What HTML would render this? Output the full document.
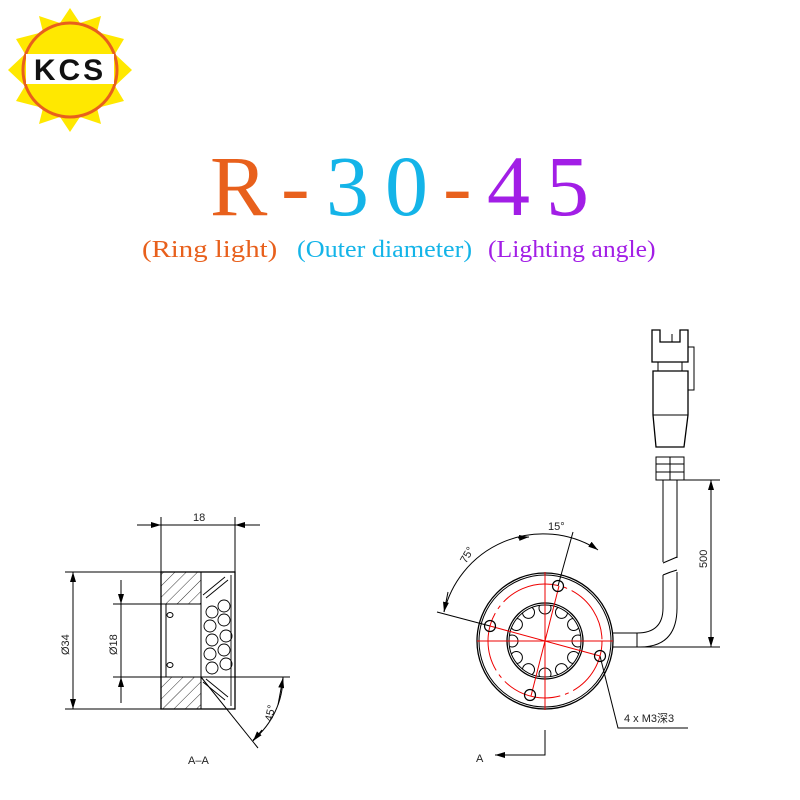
<!DOCTYPE html>
<html><head><meta charset="utf-8"><style>
body{margin:0;background:#fff;}
.w{position:relative;width:800px;height:800px;overflow:hidden;background:#fff;}
.t{position:absolute;font-family:"Liberation Serif",serif;font-size:86px;line-height:1;}
.s{position:absolute;font-family:"Liberation Serif",serif;font-size:24px;top:237px;white-space:nowrap;transform-origin:0 0;}
</style></head><body><div class="w">
<svg width="800" height="800" style="position:absolute;left:0;top:0" xmlns="http://www.w3.org/2000/svg">
<defs>
<marker id="a" markerWidth="10" markerHeight="6" refX="10" refY="3" orient="auto" markerUnits="userSpaceOnUse"><path d="M0,0 L10,3 L0,6z" fill="#000"/></marker>
<pattern id="h" width="8" height="8" patternUnits="userSpaceOnUse" patternTransform="rotate(45)"><line x1="0" y1="0" x2="0" y2="8" stroke="#000" stroke-width="0.8"/></pattern>
<clipPath id="ic"><circle cx="545" cy="641" r="36"/></clipPath>
</defs>
<!-- logo -->
<g transform="translate(70,70)">
<polygon fill="#ffe800" points="0,-62 10,-47 31,-54 27,-38 54,-31 45,-16 62,0 45,16 54,31 27,38 31,54 10,47 0,62 -10,47 -31,54 -27,38 -54,31 -45,16 -62,0 -45,-16 -54,-31 -27,-38 -31,-54 -10,-47"/>
<circle r="47" fill="#ffe800" stroke="#e8601c" stroke-width="3"/>
<rect x="-44" y="-16" width="88" height="30" fill="#fff"/>
<text x="0" y="10" text-anchor="middle" font-family="Liberation Sans,sans-serif" font-size="30" font-weight="bold" fill="#111" letter-spacing="3">KCS</text>
</g>
<g fill="none" stroke="#000" stroke-width="1">
<rect x="161" y="572" width="74" height="137" stroke-width="1.3"/>
<rect x="161" y="572" width="40" height="32" fill="url(#h)"/>
<rect x="161" y="677" width="40" height="32" fill="url(#h)"/>
<line x1="201" y1="604" x2="201" y2="677"/>
<line x1="166" y1="604" x2="166" y2="677"/>
<ellipse cx="170" cy="615" rx="3" ry="2.5"/><ellipse cx="170" cy="665" rx="3" ry="2.5"/>
<g stroke-width="0.9">
<circle cx="212" cy="612" r="6"/><circle cx="224" cy="606" r="6"/><circle cx="210" cy="626" r="6"/><circle cx="224" cy="620" r="6"/>
<circle cx="212" cy="640" r="6"/><circle cx="226" cy="636" r="6"/><circle cx="210" cy="654" r="6"/><circle cx="224" cy="650" r="6"/>
<circle cx="212" cy="668" r="6"/><circle cx="226" cy="664" r="6"/>
<line x1="203" y1="595" x2="225" y2="577"/><line x1="206" y1="598" x2="228" y2="580"/>
<line x1="203" y1="682" x2="225" y2="700"/><line x1="206" y1="679" x2="228" y2="697"/>
<line x1="231" y1="575" x2="231" y2="706"/>
</g>
<line x1="113" y1="604" x2="161" y2="604"/><line x1="113" y1="677" x2="161" y2="677"/>
<line x1="65" y1="572" x2="161" y2="572"/><line x1="65" y1="709" x2="161" y2="709"/>
<line x1="161" y1="517" x2="161" y2="572"/><line x1="235" y1="517" x2="235" y2="572"/>
<line x1="137" y1="525" x2="161" y2="525" marker-end="url(#a)"/><line x1="260" y1="525" x2="235" y2="525" marker-end="url(#a)"/>
<line x1="161" y1="525" x2="235" y2="525"/>
<line x1="73" y1="640" x2="73" y2="572" marker-end="url(#a)"/><line x1="73" y1="640" x2="73" y2="709" marker-end="url(#a)"/>
<line x1="121" y1="580" x2="121" y2="604" marker-end="url(#a)"/><line x1="121" y1="703" x2="121" y2="677" marker-end="url(#a)"/>
<line x1="121" y1="604" x2="121" y2="677"/>
<line x1="201" y1="677" x2="290" y2="677"/>
<line x1="201" y1="677" x2="258" y2="748"/>
<path d="M283,677 A82,82 0 0 1 253,740" />
<line x1="278" y1="705" x2="283" y2="678" marker-end="url(#a)"/>
<line x1="262" y1="730" x2="253" y2="741" marker-end="url(#a)"/>
<circle cx="545" cy="641" r="68" stroke-width="1.3"/><circle cx="545" cy="641" r="66"/>
<circle cx="545" cy="641" r="38" stroke-width="1.3"/><circle cx="545" cy="641" r="36"/>
</g>
<g fill="none" stroke="#000" stroke-width="1" clip-path="url(#ic)">
<circle cx="578" cy="641" r="6"/><circle cx="573.6" cy="657.5" r="6"/><circle cx="561.5" cy="669.6" r="6"/><circle cx="545" cy="674" r="6"/><circle cx="528.5" cy="669.6" r="6"/><circle cx="516.4" cy="657.5" r="6"/><circle cx="512" cy="641" r="6"/><circle cx="516.4" cy="624.5" r="6"/><circle cx="528.5" cy="612.4" r="6"/><circle cx="545" cy="608" r="6"/><circle cx="561.5" cy="612.4" r="6"/><circle cx="573.6" cy="624.5" r="6"/>
</g>
<g fill="none" stroke="#e00" stroke-width="1">
<circle cx="545" cy="641" r="57" stroke-dasharray="60,5,4,5"/>
<line x1="477" y1="641" x2="613" y2="641"/><line x1="545" y1="572" x2="545" y2="710"/>
<line x1="490" y1="626" x2="600" y2="656"/><line x1="559" y1="586" x2="531" y2="696"/>
</g>
<g fill="none" stroke="#000" stroke-width="1.2">
<circle cx="558" cy="586" r="5.5"/><circle cx="490" cy="626" r="5.5"/><circle cx="600" cy="656" r="5.5"/><circle cx="530" cy="695" r="5.5"/>
</g>
<g fill="none" stroke="#000" stroke-width="1">
<line x1="490" y1="626" x2="437" y2="612"/><line x1="558" y1="586" x2="573" y2="532"/>
<path d="M444,612 A102,102 0 0 1 595,548"/>
<line x1="448" y1="592" x2="444" y2="612" marker-end="url(#a)"/>
<line x1="518" y1="538" x2="529" y2="537" marker-end="url(#a)"/>
<line x1="591" y1="545" x2="598" y2="550" marker-end="url(#a)"/>
<path d="M613,633 L637,633 L637,647 L613,647 M637,633 Q663,633 663,608 L663,575 M637,647 L640,647 Q677,647 677,608 L677,572"/>
<path d="M663,562 L663,480 M677,558 L677,480"/>
<path d="M663,575 Q670,572 677,570 M663,563 Q670,560 677,557"/>
<line x1="613" y1="647" x2="720" y2="647"/><line x1="677" y1="480" x2="720" y2="480"/>
<line x1="711" y1="560" x2="711" y2="647" marker-end="url(#a)"/><line x1="711" y1="560" x2="711" y2="480" marker-end="url(#a)"/>
<path d="M652,362 L652,330 L660,330 L660,342 L680,342 L680,330 L688,330 L688,362 Z" stroke-width="1.3"/>
<line x1="672" y1="334" x2="672" y2="342"/>
<rect x="658" y="362" width="24" height="9"/>
<path d="M653,371 L688,371 L688,415 L684,447 L656,447 L653,415 Z" stroke-width="1.3"/>
<line x1="653" y1="415" x2="688" y2="415"/>
<path d="M688,347 L694,347 L694,390 L688,390"/>
<rect x="656" y="457" width="28" height="23"/>
<line x1="656" y1="464" x2="684" y2="464"/><line x1="656" y1="472" x2="684" y2="472"/>
<line x1="670" y1="457" x2="670" y2="480"/>
<polyline points="600,656 618,728 688,728"/>
<polyline points="545,730 545,755 495,755"/>
<line x1="525" y1="755" x2="495" y2="755" marker-end="url(#a)"/>
</g>
<g font-family="Liberation Sans,sans-serif" font-size="11" fill="#222">
<text x="193" y="521">18</text>
<text x="0" y="0" transform="translate(69,655) rotate(-90)">Ø34</text>
<text x="0" y="0" transform="translate(117,655) rotate(-90)">Ø18</text>
<text x="0" y="0" transform="translate(272,722) rotate(-78)">45°</text>
<text x="188" y="764">A–A</text>
<text x="0" y="0" transform="translate(466,564) rotate(-60)">75°</text>
<text x="548" y="530">15°</text>
<text x="0" y="0" transform="translate(707,568) rotate(-90)">500</text>
<text x="624" y="722" font-family="Liberation Sans,'Noto Sans CJK SC',sans-serif">4 x  M3深3</text>
<text x="476" y="762">A</text>
</g>
</svg>
<div class="t" style="left:210px;top:143px;color:#e8601c">R</div>
<div class="t" style="left:281px;top:143px;color:#e8601c">-</div>
<div class="t" style="left:326px;top:143px;color:#14b4e8">3</div>
<div class="t" style="left:385px;top:143px;color:#14b4e8">0</div>
<div class="t" style="left:443px;top:143px;color:#e8601c">-</div>
<div class="t" style="left:487px;top:143px;color:#a21ee6">4</div>
<div class="t" style="left:546px;top:143px;color:#a21ee6">5</div>
<div class="s" style="left:142px;color:#e8601c;transform:scaleX(1.2)">(Ring light)</div>
<div class="s" style="left:297px;color:#14b4e8;transform:scaleX(1.09)">(Outer diameter)</div>
<div class="s" style="left:488px;color:#a21ee6;transform:scaleX(1.07)">(Lighting angle)</div>
</div></body></html>
